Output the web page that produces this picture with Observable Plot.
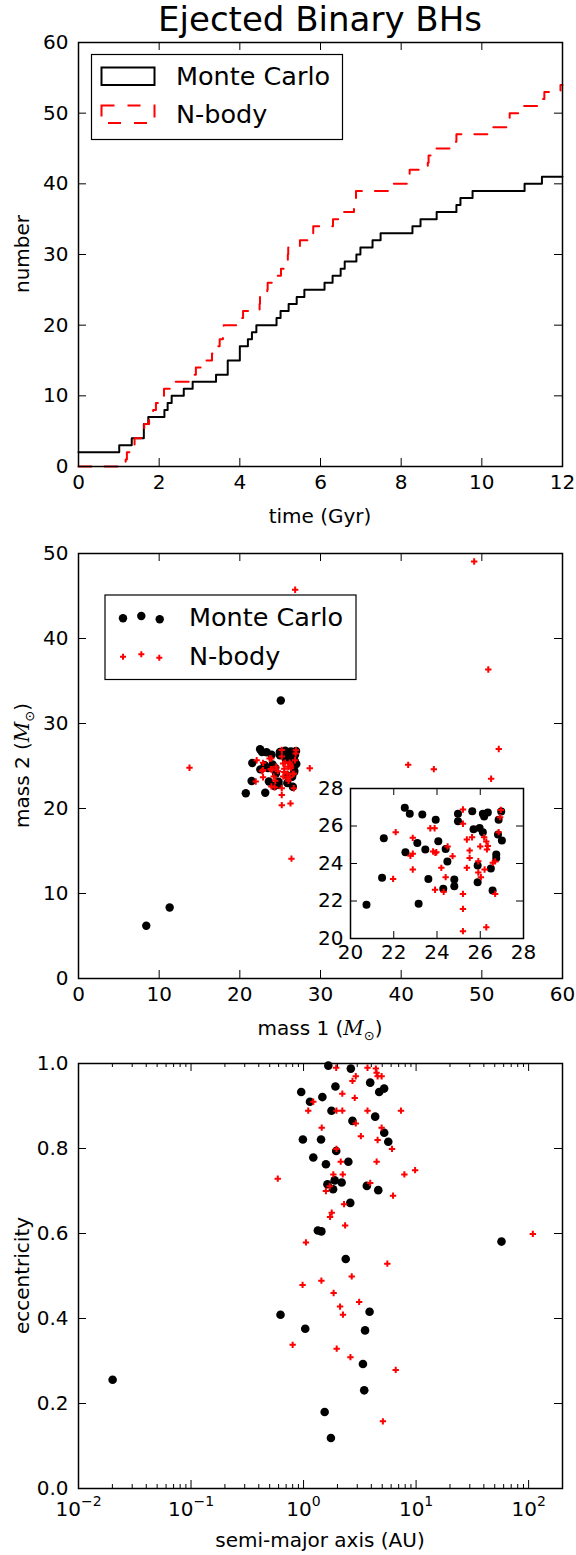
<!DOCTYPE html>
<html><head><meta charset="utf-8">
<script src="https://cdn.jsdelivr.net/npm/d3@7"></script>
<script src="https://cdn.jsdelivr.net/npm/@observablehq/plot@0.6"></script>
<style>
html,body{margin:0;padding:0;background:#fff;}
#chart{position:relative;width:576px;height:1555px;}
#chart svg{position:absolute;}
</style></head><body><div id="chart"></div>
<script>
// ---------------- DATA ----------------
const titleText = "Ejected Binary BHs";
const seriesNames = ["Monte Carlo", "N-body"];

// Panel 1: cumulative number of ejected binaries vs time
const mcTime  = [0, 1.01, 1.32, 1.62, 1.73, 2.13, 2.21, 2.31, 2.61, 2.83, 3.41, 3.70, 4.00, 4.20, 4.30, 4.41, 4.91, 5.01, 5.21, 5.41, 5.60, 6.10, 6.30, 6.50, 6.60, 6.89, 6.99, 7.29, 7.49, 8.28, 8.48, 8.88, 9.37, 9.47, 9.77, 11.06, 11.49, 12];
const mcCount = [2, 3, 4, 6, 7, 8, 9, 10, 11, 12, 13, 15, 17, 18, 19, 20, 21, 22, 23, 24, 25, 26, 27, 28, 29, 30, 31, 32, 33, 34, 35, 36, 37, 38, 39, 40, 41, 41];
const nbTime  = [0, 1.17, 1.20, 1.32, 1.39, 1.55, 1.63, 1.75, 1.85, 1.92, 2.05, 2.12, 2.30, 2.88, 2.91, 3.10, 3.31, 3.45, 3.50, 3.58, 3.60, 3.92, 4.08, 4.49, 4.50, 4.68, 4.69, 4.80, 5.02, 5.15, 5.19, 5.20, 5.49, 5.70, 5.82, 6.31, 6.50, 6.83, 6.87, 6.88, 7.70, 8.18, 8.21, 8.66, 8.68, 8.80, 9.36, 9.37, 10.15, 10.68, 10.69, 10.90, 11.40, 11.55, 11.95, 12];
const nbCount = [0, 1, 2, 3, 4, 5, 6, 7, 8, 9, 10, 11, 12, 13, 14, 15, 16, 17, 18, 19, 20, 21, 22, 23, 24, 25, 26, 27, 28, 29, 30, 31, 32, 33, 34, 35, 36, 37, 38, 39, 40, 41, 42, 43, 44, 45, 46, 47, 48, 49, 50, 51, 52, 53, 54, 54];
const timeTicks  = [0, 2, 4, 6, 8, 10, 12];
const countTicks = [0, 10, 20, 30, 40, 50, 60];

// Panel 2: masses (solar masses)
const mcMass1 = [22.51, 22.74, 23.32, 23.94, 24.97, 24.97, 25.63, 26.12, 26.18, 26.35, 26.97, 26.85, 25.69, 25.97, 26.12, 26.82, 27.0, 21.54, 23.09, 24.06, 22.54, 23.46, 24.40, 24.48, 26.74, 26.74, 25.88, 26.49, 21.46, 23.60, 24.80, 24.80, 24.29, 25.88, 26.57, 20.74, 23.15, 25.08, 8.4, 11.3];
const mcMass2 = [26.97, 26.65, 26.61, 26.33, 26.65, 26.26, 26.79, 26.65, 26.51, 26.72, 26.77, 26.33, 25.83, 25.90, 25.67, 25.55, 25.23, 25.35, 25.10, 25.19, 24.60, 24.75, 24.78, 24.11, 24.48, 24.30, 23.89, 23.73, 23.24, 23.18, 23.15, 22.79, 22.65, 23.00, 22.56, 21.80, 21.85, 32.7, 6.2, 8.35];
const nbMass1 = [25.2, 25.2, 26.95, 26.92, 23.69, 23.89, 22.09, 22.88, 26.85, 25.62, 25.38, 26.18, 26.28, 26.0, 26.35, 26.31, 24.49, 25.51, 23.82, 23.97, 23.92, 22.88, 22.77, 24.72, 25.51, 25.91, 26.69, 26.58, 25.38, 24.2, 26.2, 22.88, 25.91, 26.03, 24.4, 21.97, 23.91, 24.31, 25.2, 26.69, 25.2, 26.28, 25.2, 26.4, 13.76, 28.67, 40.87, 44.05, 52.1, 51.15, 50.8, 49.05, 26.86];
const nbMass2 = [26.88, 26.12, 26.86, 26.47, 25.88, 25.88, 25.67, 25.37, 25.67, 25.40, 25.28, 25.40, 25.17, 24.91, 24.94, 24.75, 24.91, 24.69, 24.64, 24.60, 24.57, 24.52, 24.41, 24.39, 24.30, 24.12, 24.11, 24.04, 23.77, 23.77, 23.68, 23.68, 23.52, 23.27, 23.27, 23.18, 22.60, 22.49, 22.38, 22.38, 21.58, 20.60, 20.39, 14.1, 24.8, 24.74, 25.14, 24.63, 27.0, 23.5, 36.35, 49.06, 45.73];
const massTicks1 = [0, 10, 20, 30, 40, 50, 60];
const massTicks2 = [0, 10, 20, 30, 40, 50];
const insetTicks = [20, 22, 24, 26, 28];

// Panel 3: semi-major axis (AU) and eccentricity
const mcSemi = [1.66, 2.63, 1.92, 3.91, 0.953, 4.70, 5.20, 1.47, 1.14, 1.77, 4.33, 2.72, 5.21, 5.66, 0.986, 1.43, 1.95, 1.22, 1.58, 2.50, 1.63, 1.83, 2.18, 1.89, 3.65, 4.61, 2.60, 1.34, 1.44, 2.37, 0.624, 3.86, 1.035, 3.52, 3.37, 3.46, 1.54, 1.75, 0.0201, 57.4];
const mcEcc  = [0.995, 0.988, 0.946, 0.955, 0.933, 0.933, 0.941, 0.921, 0.910, 0.889, 0.875, 0.865, 0.837, 0.816, 0.821, 0.821, 0.794, 0.779, 0.763, 0.769, 0.716, 0.704, 0.720, 0.725, 0.712, 0.702, 0.672, 0.607, 0.605, 0.540, 0.409, 0.416, 0.376, 0.372, 0.293, 0.231, 0.180, 0.119, 0.256, 0.581];
const nbSemi = [1.95, 3.70, 4.39, 4.46, 4.55, 4.94, 2.91, 2.72, 2.21, 2.85, 1.22, 1.10, 1.96, 2.21, 3.70, 7.34, 2.91, 1.45, 4.94, 3.23, 4.55, 6.11, 1.96, 2.14, 4.46, 9.80, 7.87, 0.59, 1.84, 2.23, 3.91, 1.71, 1.58, 6.24, 2.29, 1.78, 1.72, 2.34, 1.05, 5.55, 2.68, 0.98, 1.44, 1.85, 3.12, 2.11, 2.24, 0.80, 1.97, 2.61, 6.59, 5.07, 109];
const nbEcc  = [0.990, 0.990, 0.988, 0.978, 0.970, 0.970, 0.970, 0.959, 0.929, 0.919, 0.910, 0.889, 0.889, 0.889, 0.889, 0.889, 0.859, 0.849, 0.849, 0.829, 0.820, 0.799, 0.799, 0.769, 0.769, 0.749, 0.739, 0.729, 0.739, 0.739, 0.719, 0.711, 0.700, 0.689, 0.669, 0.649, 0.639, 0.619, 0.579, 0.529, 0.499, 0.479, 0.489, 0.460, 0.439, 0.428, 0.409, 0.338, 0.329, 0.309, 0.279, 0.158, 0.599];
const semiTicks = [0.01, 0.1, 1, 10, 100];
const semiTickBase = "10";
const semiTickExp = ["\u22122", "\u22121", "0", "1", "2"];
const semiMinorTicks = [0.02, 0.03, 0.04, 0.05, 0.06, 0.07, 0.08, 0.09, 0.2, 0.3, 0.4, 0.5, 0.6, 0.7, 0.8, 0.9, 2, 3, 4, 5, 6, 7, 8, 9, 20, 30, 40, 50, 60, 70, 80, 90, 200];
const eccTicks = [0, 0.2, 0.4, 0.6, 0.8, 1.0];

// ---------------- DRAWING ----------------
const FONT = "DejaVu Sans";
const W = 576;
const chart = document.getElementById("chart");
const baseStyle = {fontFamily: FONT, fontSize: "20px", background: "none", overflow: "visible", color: "black"};
const RED = "#ff0000";

function inwardTicks(xT, yT, innerW, innerH, len, opts = {}) {
  const o = {stroke: "black", strokeWidth: 1, ...opts};
  return [
    Plot.ruleX(xT, {x: d => d, insetTop: innerH - len, ...o}),
    Plot.ruleX(xT, {x: d => d, insetBottom: innerH - len, ...o}),
    Plot.ruleY(yT, {y: d => d, insetLeft: innerW - len, ...o}),
    Plot.ruleY(yT, {y: d => d, insetRight: innerW - len, ...o})
  ];
}
function place(svg, left, top) {
  svg.style.left = left + "px";
  svg.style.top = top + "px";
  chart.appendChild(svg);
  return d3.select(svg);
}
function txt(sel, x, y, s, size, anchor = "middle", rot = false) {
  const t = sel.append("text").attr("font-family", FONT).attr("font-size", size)
    .attr("fill", "black").attr("text-anchor", anchor).attr("stroke", "none");
  if (rot) t.attr("transform", `translate(${x},${y}) rotate(-90)`);
  else t.attr("x", x).attr("y", y);
  if (s != null) t.text(s);
  return t;
}
function massLabel(sel, x, y, num, rot) {
  const t = txt(sel, x, y, null, 20, "middle", rot);
  t.append("tspan").text(`mass ${num} (`);
  t.append("tspan").attr("font-family", "DejaVu Serif").attr("font-style", "italic").text("M");
  t.append("tspan").attr("font-size", 13).attr("dy", 5).text("\u2299");
  t.append("tspan").attr("dy", -5).text(")");
}

const ML = 78, MR = 14, innerW = W - ML - MR; // 484
const innerH = 425;

// ---- Panel 1 ----
const mc = mcTime.map((t, i) => ({t, n: mcCount[i]}));
const nb = nbTime.map((t, i) => ({t, n: nbCount[i]}));
const p1 = Plot.plot({
  width: W, height: 535, marginTop: 42, marginBottom: 535 - 42 - 424, marginLeft: ML, marginRight: MR,
  style: baseStyle,
  x: {domain: [0, 12], ticks: timeTicks, tickSize: 0, tickPadding: 8, label: null},
  y: {domain: [0, 60], ticks: countTicks, tickSize: 0, tickPadding: 10, label: null},
  marks: [
    Plot.line(mc, {x: "t", y: "n", curve: "step-after", stroke: "black", strokeWidth: 2}),
    Plot.line(nb, {x: "t", y: "n", curve: "step-after", stroke: RED, strokeWidth: 2, strokeDasharray: "13,13"}),
    ...inwardTicks(timeTicks, countTicks, innerW, 424, 8),
    Plot.frame({stroke: "black", strokeWidth: 1.5})
  ]
});
const s1 = place(p1, 0, 0);
txt(s1, 320, 31, titleText, 34);
txt(s1, 320, 523, "time (Gyr)", 20);
txt(s1, 29, 254, "number", 20, "middle", true);
// legend 1
s1.append("rect").attr("x", 91.5).attr("y", 54.5).attr("width", 251).attr("height", 85)
  .attr("fill", "white").attr("stroke", "black").attr("stroke-width", 1.2);
s1.append("rect").attr("x", 101.5).attr("y", 67.5).attr("width", 53).attr("height", 17.5)
  .attr("fill", "none").attr("stroke", "black").attr("stroke-width", 2);
s1.append("rect").attr("x", 101.5).attr("y", 105.5).attr("width", 53).attr("height", 17.5)
  .attr("fill", "none").attr("stroke", RED).attr("stroke-width", 2).attr("stroke-dasharray", "13,13");
txt(s1, 176, 85, seriesNames[0], 25.5, "start");
txt(s1, 176, 123, seriesNames[1], 25.5, "start");

// ---- Panel 2 ----
const mcM = mcMass1.map((m, i) => ({m1: m, m2: mcMass2[i]}));
const nbM = nbMass1.map((m, i) => ({m1: m, m2: nbMass2[i]}));
const p2 = Plot.plot({
  width: W, height: 510, marginTop: 18, marginBottom: 67, marginLeft: ML, marginRight: MR,
  style: baseStyle,
  x: {domain: [0, 60], ticks: massTicks1, tickSize: 0, tickPadding: 8, label: null},
  y: {domain: [0, 50], ticks: massTicks2, tickSize: 0, tickPadding: 10, label: null},
  marks: [
    Plot.dot(mcM, {x: "m1", y: "m2", r: 4.2, fill: "black", stroke: "none"}),
    Plot.dot(nbM, {x: "m1", y: "m2", r: 2.2, symbol: "plus", stroke: RED, strokeWidth: 2}),
    ...inwardTicks(massTicks1, massTicks2, innerW, innerH, 8),
    Plot.frame({stroke: "black", strokeWidth: 1.5})
  ]
});
const s2 = place(p2, 0, 535);
massLabel(s2, 320, 500, 1, false);
massLabel(s2, 29, 230.5, 2, true);
// legend 2
s2.append("rect").attr("x", 105).attr("y", 60).attr("width", 251).attr("height", 84.5)
  .attr("fill", "white").attr("stroke", "black").attr("stroke-width", 1.2);
[[123, 83.3], [141.3, 81], [159.7, 84.3]].forEach(([x, y]) =>
  s2.append("circle").attr("cx", x).attr("cy", y).attr("r", 4.2).attr("fill", "black"));
[[123, 121.7], [141.3, 119.3], [159.3, 122.7]].forEach(([x, y]) =>
  s2.append("path").attr("d", `M${x - 3},${y}H${x + 3}M${x},${y - 3}V${y + 3}`).attr("stroke", RED).attr("stroke-width", 2));
txt(s2, 189, 91, seriesNames[0], 25.5, "start");
txt(s2, 189, 130, seriesNames[1], 25.5, "start");

// ---- Inset ----
const inRange = d => d.m1 >= 20 && d.m1 <= 28 && d.m2 >= 20 && d.m2 <= 28;
const IW = 173, IH = 150;
const pi = Plot.plot({
  width: 240, height: 200, marginTop: 20, marginBottom: 30, marginLeft: 50, marginRight: 17,
  style: baseStyle,
  x: {domain: [20, 28], ticks: insetTicks, tickSize: 0, tickPadding: 6, label: null},
  y: {domain: [20, 28], ticks: insetTicks, tickSize: 0, tickPadding: 7, label: null},
  marks: [
    Plot.frame({fill: "white", stroke: "none"}),
    Plot.dot(mcM.filter(inRange), {x: "m1", y: "m2", r: 4, fill: "black", stroke: "none"}),
    Plot.dot(nbM.filter(inRange), {x: "m1", y: "m2", r: 2.2, symbol: "plus", stroke: RED, strokeWidth: 2}),
    ...inwardTicks(insetTicks, insetTicks, IW, IH, 7),
    Plot.frame({stroke: "black", strokeWidth: 1.5})
  ]
});
place(pi, 300, 768);

// ---- Panel 3 ----
const mcO = mcSemi.map((a, i) => ({a, e: mcEcc[i]}));
const nbO = nbSemi.map((a, i) => ({a, e: nbEcc[i]}));
const p3 = Plot.plot({
  width: W, height: 510, marginTop: 18, marginBottom: 67, marginLeft: ML, marginRight: MR,
  style: baseStyle,
  x: {type: "log", domain: [0.01, 200], ticks: semiTicks,
      tickFormat: d => semiTickBase + "|" + semiTickExp[semiTicks.indexOf(d)],
      tickSize: 0, tickPadding: 13, label: null},
  y: {domain: [0, 1], ticks: eccTicks, tickFormat: d => d.toFixed(1), tickSize: 0, tickPadding: 10, label: null},
  marks: [
    Plot.dot(mcO, {x: "a", y: "e", r: 4.3, fill: "black", stroke: "none"}),
    Plot.dot(nbO, {x: "a", y: "e", r: 2.2, symbol: "plus", stroke: RED, strokeWidth: 2}),
    ...inwardTicks(semiTicks, eccTicks, innerW, innerH, 8),
    Plot.ruleX(semiMinorTicks, {x: d => d, insetTop: innerH - 4, stroke: "black"}),
    Plot.ruleX(semiMinorTicks, {x: d => d, insetBottom: innerH - 4, stroke: "black"}),
    Plot.frame({stroke: "black", strokeWidth: 1.5})
  ]
});
const s3 = place(p3, 0, 1045);
// rebuild log tick labels as base + superscript exponent
s3.selectAll("text").each(function() {
  const s = this.textContent;
  if (s.indexOf("|") > 0 && this.children.length === 0) {
    const [base, exp] = s.split("|");
    const t = d3.select(this);
    t.text(null);
    t.append("tspan").text(base);
    t.append("tspan").attr("font-size", 14).attr("dy", -10).text(exp);
  }
});
txt(s3, 320, 502, "semi-major axis (AU)", 20);
txt(s3, 29, 230.5, "eccentricity", 20, "middle", true);
</script></body></html>
